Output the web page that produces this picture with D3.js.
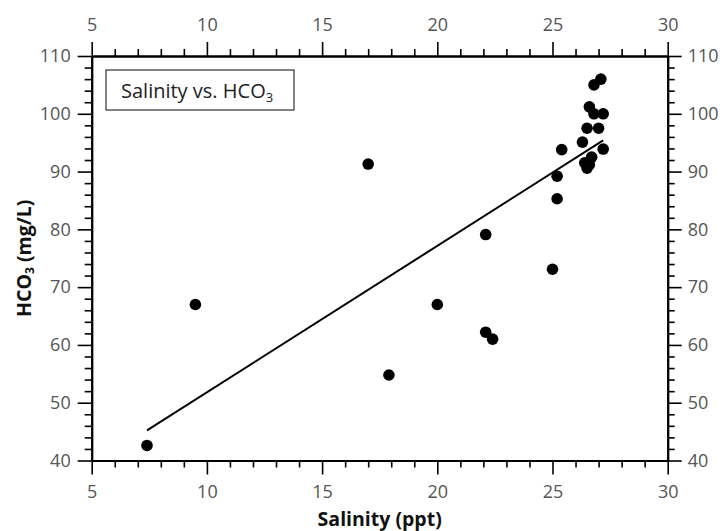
<!DOCTYPE html>
<html>
<head>
<meta charset="utf-8">
<script src="https://cdn.jsdelivr.net/npm/d3@7"></script>
<style>
  body{margin:0;background:#fff}
  text{font-family:"Open Sans","Noto Sans",sans-serif}
</style>
</head>
<body>
<div id="chart"></div>
<script>
// salinity (ppt) vs HCO3 (mg/L)
var salinity = [7.4, 9.5, 17.0, 17.9, 20.0, 22.1, 22.1, 22.4, 25.0, 25.2, 25.2, 25.4,
                26.3, 26.4, 26.5, 26.6, 26.7, 26.5, 26.6, 26.8, 27.0, 27.2, 27.2, 26.8, 27.1]
var hco3 = [42.6, 67.0, 91.3, 54.8, 67.0, 79.1, 62.2, 61.0, 73.1, 85.3, 89.2, 93.8,
            95.1, 91.5, 90.6, 91.2, 92.5, 97.5, 101.2, 100.0, 97.5, 100.0, 93.9, 105.0, 106.0]
var fitLine = [[7.4, 45.2], [27.2, 95.4]]
var xTicks = [5, 10, 15, 20, 25, 30]
var yTicks = [40, 50, 60, 70, 80, 90, 100, 110]

initChart()
function initChart(){
  var width = 725
  var height = 531
  var margin = {top:56, bottom:70.5, left:91.7, right:57.3}

  var svg = d3.select("#chart").append("svg")
      .attr("width", width)
      .attr("height", height)

  var x = d3.scaleLinear().domain([5, 30]).range([margin.left, width-margin.right])
  var y = d3.scaleLinear().domain([40, 110]).range([height-margin.bottom, margin.top])

  var xMinor = d3.range(5, 31, 1).filter(function(d){ return d%5!=0 })
  var yMinor = d3.range(40, 111, 2).filter(function(d){ return d%10!=0 })

  function styleAxis(g){
    g.attr("font-size",18).attr("font-family",null)
    g.select(".domain").attr("stroke","#000").attr("stroke-width",2)
    g.selectAll(".tick line").attr("stroke","#000").attr("stroke-width",1.6)
    g.selectAll("text").attr("fill","#555").style("font-size","18px")
  }

  // major axes
  svg.append("g").attr("transform","translate(0,"+y(40)+")")
    .call(d3.axisBottom(x).tickValues(xTicks).tickSize(14).tickPadding(11).tickSizeOuter(0))
    .call(styleAxis)
  svg.append("g").attr("transform","translate(0,"+y(110)+")")
    .call(d3.axisTop(x).tickValues(xTicks).tickSize(14).tickPadding(11).tickSizeOuter(0))
    .call(styleAxis)
  svg.append("g").attr("transform","translate("+x(5)+",0)")
    .call(d3.axisLeft(y).tickValues(yTicks).tickSize(14).tickPadding(7).tickSizeOuter(0))
    .call(styleAxis)
  svg.append("g").attr("transform","translate("+x(30)+",0)")
    .call(d3.axisRight(y).tickValues(yTicks).tickSize(14).tickPadding(6).tickSizeOuter(0))
    .call(styleAxis)

  // minor ticks
  svg.append("g").attr("transform","translate(0,"+y(40)+")")
    .call(d3.axisBottom(x).tickValues(xMinor).tickSize(7).tickFormat("").tickSizeOuter(0)).call(styleAxis)
  svg.append("g").attr("transform","translate(0,"+y(110)+")")
    .call(d3.axisTop(x).tickValues(xMinor).tickSize(7).tickFormat("").tickSizeOuter(0)).call(styleAxis)
  svg.append("g").attr("transform","translate("+x(5)+",0)")
    .call(d3.axisLeft(y).tickValues(yMinor).tickSize(7).tickFormat("").tickSizeOuter(0)).call(styleAxis)
  svg.append("g").attr("transform","translate("+x(30)+",0)")
    .call(d3.axisRight(y).tickValues(yMinor).tickSize(7).tickFormat("").tickSizeOuter(0)).call(styleAxis)

  // trend line
  svg.append("path")
    .datum(fitLine)
    .attr("d", d3.line().x(function(d){return x(d[0])}).y(function(d){return y(d[1])}))
    .attr("stroke","#000")
    .attr("stroke-width",2)
    .attr("fill","none")

  // points
  svg.append("g").selectAll("circle")
    .data(d3.range(salinity.length))
    .enter()
    .append("circle")
    .attr("cx",function(i){ return x(salinity[i]) })
    .attr("cy",function(i){ return y(hco3[i]) })
    .attr("r",5.8)
    .attr("fill","#000")

  // legend box
  svg.append("rect")
    .attr("x",106).attr("y",70).attr("width",188).attr("height",40)
    .attr("fill","#fff").attr("stroke","#333").attr("stroke-width",1.2)
  var lt = svg.append("text").attr("x",121).attr("y",98)
    .attr("fill","#222").style("font-size","20px")
  lt.append("tspan").text("Salinity vs. HCO")
  lt.append("tspan").text("3").style("font-size","13px").attr("dy",4)

  // axis titles
  svg.append("text")
    .attr("x",(x(5)+x(30))/2).attr("y",526)
    .attr("text-anchor","middle")
    .attr("fill","#111").style("font-size","19.5px").attr("font-weight",700)
    .text("Salinity (ppt)")

  var yt = svg.append("text")
    .attr("transform","translate(31,"+((y(40)+y(110))/2)+") rotate(-90)")
    .attr("text-anchor","middle")
    .attr("fill","#111").style("font-size","19.5px").attr("font-weight",700)
  yt.append("tspan").text("HCO")
  yt.append("tspan").text("3").style("font-size","12px").attr("dy",3)
  yt.append("tspan").text(" (mg/L)").attr("dy",-3)
}
</script>
</body>
</html>
